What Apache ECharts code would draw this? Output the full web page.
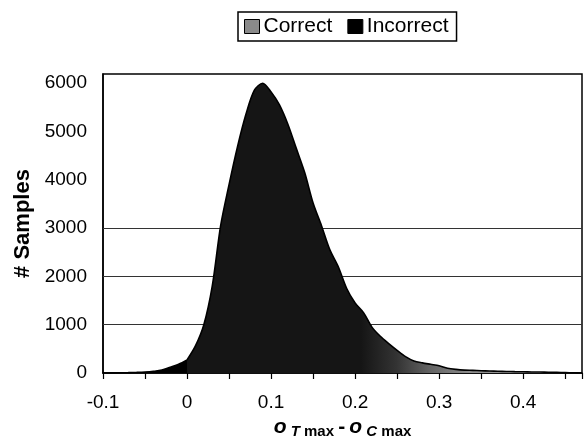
<!DOCTYPE html>
<html><head><meta charset="utf-8">
<script src="https://cdn.jsdelivr.net/npm/echarts@6/dist/echarts.min.js"></script>
<style>html,body{margin:0;padding:0;background:#fff}#c{width:584px;height:436px}</style>
</head><body><div id="c"></div>
<script>
// x values (o_Tmax - o_Cmax) and sample counts
const incorrectX = [-0.10,-0.09,-0.08,-0.07,-0.06,-0.05,-0.04,-0.03,-0.02,-0.01,0.00];
const incorrectY = [0,2,4,7,12,20,35,60,118,180,270];
const correctX = [0.00,0.01,0.02,0.03,0.04,0.05,0.06,0.07,0.08,0.09,0.10,0.11,0.12,0.13,0.14,0.15,0.16,0.17,0.18,0.19,0.20,0.21,0.22,0.23,0.24,0.25,0.26,0.27,0.28,0.29,0.30,0.31,0.32,0.33,0.34,0.35,0.36,0.37,0.38,0.39,0.40,0.41,0.42,0.43,0.44,0.45,0.46,0.47];
const correctY = [270,560,1000,1800,3050,3900,4680,5350,5850,6000,5820,5550,5150,4650,4150,3520,3050,2550,2200,1750,1450,1250,950,760,610,470,340,250,210,180,150,100,75,60,55,48,42,36,32,28,25,22,20,15,12,8,4,0];
const seriesNames = ['Correct','Incorrect'];
const yTicks = [0,1000,2000,3000,4000,5000,6000];
const gridValues = [1000,2000,3000];

const chart = echarts.init(document.getElementById('c'));
const font = 'Liberation Sans, Arial, sans-serif';
const zip = (xs, ys) => xs.map((x, i) => [x, ys[i]]);
chart.setOption({
  animation: false,
  textStyle: {fontFamily: font},
  legend: {
    data: seriesNames,
    left: 238, top: 12,
    padding: [4, 8, 4, 6],
    borderColor: '#000', borderWidth: 1.5,
    itemWidth: 15, itemHeight: 14, itemGap: 15,
    icon: 'rect',
    itemStyle: {borderColor: '#000', borderWidth: 1},
    textStyle: {fontSize: 21, color: '#000', fontFamily: font, padding: [0,0,0,-1]}
  },
  grid: {left: 103, right: 2, top: 74, bottom: 63, containLabel: false, outerBoundsMode: 'none',
         show: true, borderColor: '#000', borderWidth: 1.5, backgroundColor: 'transparent'},
  xAxis: {
    type: 'value', min: -0.1, max: 0.47, interval: 0.05,
    axisLine: {onZero: false, lineStyle: {color: '#000', width: 1.5}},
    axisTick: {show: true, length: 6, lineStyle: {color: '#000', width: 1.2}},
    splitLine: {show: false},
    axisLabel: {
      fontSize: 19, color: '#000', margin: 20,
      formatter: v => {
        const r = Math.round(v * 10) / 10;
        if (Math.abs(v - r) > 1e-6) return '';
        return r === 0 ? '0' : String(r);
      }
    },
    name: '{o|o}{s| }{t|T}{s| max }{m|-}{s| }{o|o}{s| }{t|C}{s| max}',
    nameLocation: 'middle', nameGap: 41,
    nameTextStyle: {
      rich: {
        o: {fontSize: 21, fontWeight: 'bold', fontStyle: 'italic', color: '#000', fontFamily: font},
        t: {fontSize: 15, fontWeight: 'bold', fontStyle: 'italic', color: '#000', fontFamily: font, padding: [9, 0, 0, 0]},
        s: {fontSize: 15, fontWeight: 'bold', color: '#000', fontFamily: font, padding: [9, 0, 0, 0]},
        m: {fontSize: 21, fontWeight: 'bold', color: '#000', fontFamily: font}
      }
    }
  },
  yAxis: {
    type: 'value', min: 0, max: 6190, interval: 1000,
    axisLine: {show: true, onZero: false, lineStyle: {color: '#000', width: 1.5}},
    axisTick: {show: false},
    axisLabel: {
      fontSize: 19, color: '#000', margin: 16,
      formatter: v => yTicks.indexOf(v) >= 0 ? String(v) : ''
    },
    splitLine: {show: false},
    name: '# Samples', nameLocation: 'middle', nameGap: 69,
    nameTextStyle: {fontSize: 22, fontWeight: 'bold', color: '#000', fontFamily: font}
  },
  series: [
    {
      name: 'Correct', type: 'line', smooth: 0.3, showSymbol: false, z: 3,
      data: zip(correctX, correctY),
      itemStyle: {color: '#8a8a8a', borderColor: '#000', borderWidth: 1},
      lineStyle: {color: '#000', width: 1.6},
      areaStyle: {
        opacity: 1,
        color: {type: 'linear', x: 0, y: 0, x2: 1, y2: 0, colorStops: [
          {offset: 0, color: '#151515'}, {offset: 0.44, color: '#151515'},
          {offset: 0.53, color: '#333'}, {offset: 0.62, color: '#666'},
          {offset: 0.72, color: '#8e8e8e'}, {offset: 1, color: '#9a9a9a'}]}
      },
      markLine: {
        silent: true, symbol: 'none', z: 1,
        lineStyle: {color: '#333', width: 1, type: 'solid'},
        label: {show: false},
        data: gridValues.map(v => ({yAxis: v}))
      }
    },
    {
      name: 'Incorrect', type: 'line', smooth: 0.3, showSymbol: false, z: 4,
      data: zip(incorrectX, incorrectY),
      itemStyle: {color: '#000'},
      lineStyle: {color: '#000', width: 1.6},
      areaStyle: {color: '#000', opacity: 1}
    }
  ]
});
</script></body></html>
